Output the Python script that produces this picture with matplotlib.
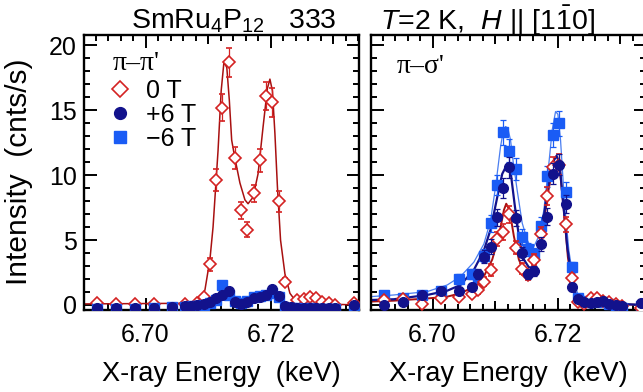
import matplotlib
matplotlib.use('Agg')
import matplotlib.pyplot as plt
from matplotlib.ticker import MultipleLocator, FixedLocator, FormatStrFormatter
from matplotlib.lines import Line2D

plt.rcParams['font.family'] = ['Liberation Sans', 'DejaVu Sans']
plt.rcParams['mathtext.fontset'] = 'custom'
plt.rcParams['mathtext.rm'] = 'Liberation Sans'
plt.rcParams['mathtext.it'] = 'Liberation Sans:italic'
plt.rcParams['mathtext.bf'] = 'Liberation Sans:bold'

# ---------------- data: left panel (pi-pi') ----------------
E0L = [6.6923, 6.6953, 6.6983, 6.7013, 6.7063, 6.7083, 6.7093, 6.7103, 6.7113, 6.7123,
       6.7133, 6.7143, 6.7153, 6.7163, 6.7173, 6.7183, 6.7193, 6.7203, 6.7213, 6.7223,
       6.7243, 6.7253, 6.7263, 6.7273, 6.7283, 6.7293, 6.7303, 6.7333]
I0L = [0.15, 0.1, 0.1, 0.1, 0.1, 0.15, 0.65, 3.15, 9.6, 15.2,
       18.7, 11.3, 7.3, 5.8, 8.6, 11.15, 16.1, 15.6, 8.0, 1.8,
       0.38, 0.44, 0.64, 0.56, 0.26, 0.13, 0.0, 0.13]
err0L = [0.1, 0.1, 0.1, 0.1, 0.1, 0.1, 0.2, 0.5, 0.85, 1.05,
         1.1, 0.85, 0.65, 0.6, 0.65, 0.9, 1.05, 1.1, 0.8, 0.3,
         0.15, 0.15, 0.2, 0.2, 0.15, 0.1, 0.1, 0.1]

EbL = [6.6923, 6.6953, 6.6983, 6.7013, 6.7043, 6.7063, 6.7073, 6.7083, 6.7093, 6.7103,
       6.7113, 6.7123, 6.7133, 6.7143, 6.7153, 6.7163, 6.7173, 6.7183, 6.7193, 6.7203,
       6.7213, 6.7223, 6.7233, 6.7243, 6.7253, 6.7263, 6.7273, 6.7283, 6.7293, 6.7303, 6.7333]
I6pL = [-0.25, -0.25, -0.25, -0.2, -0.12, -0.08, -0.05, 0.0, 0.1, 0.25,
        0.5, 0.8, 1.1, 0.2, 0.1, 0.25, 0.55, 0.65, 0.8, 1.2,
        0.7, -0.1, -0.15, -0.2, -0.2, -0.25, -0.2, -0.25, -0.25, -0.25, 0.0]
I6mL = [-0.3, -0.3, -0.3, -0.25, -0.15, -0.15, -0.1, -0.05, 0.0, 0.15,
        0.4, 1.55, 0.75, 0.3, 0.15, 0.3, 0.65, 0.7, 0.75, 0.9,
        0.65, -0.2, -0.25, -0.25, -0.3, -0.25, -0.3, -0.3, -0.3, -0.3, -0.3]

fitE0L = [6.69014, 6.7071, 6.7087, 6.7095, 6.7103, 6.7108, 6.7116, 6.7121, 6.71254, 6.7130,
          6.7134, 6.71378, 6.7143, 6.7151, 6.7159, 6.7164, 6.7172, 6.7180, 6.7188, 6.7195,
          6.7199, 6.7203, 6.7207, 6.7211, 6.7216, 6.7223, 6.7231, 6.7239, 6.7252, 6.73377]
fitI0L = [0.08, 0.13, 0.5, 1.15, 3.5, 6.0, 11.9, 16.5, 18.7, 18.3,
          15.8, 12.7, 11.3, 9.4, 8.1, 7.8, 8.3, 10.1, 13.7, 16.7,
          17.4, 16.5, 13.2, 9.1, 5.0, 2.4, 0.9, 0.38, 0.13, 0.0]

# ---------------- data: right panel (pi-sigma') ----------------
ER = [6.6923, 6.6953, 6.6983, 6.7013, 6.7043, 6.7063, 6.7073, 6.7083, 6.7093, 6.7103,
      6.7113, 6.7123, 6.7133, 6.7143, 6.7153, 6.7163, 6.7173, 6.7183, 6.7193, 6.7203,
      6.7213, 6.7223, 6.7233, 6.7243, 6.7253, 6.7263, 6.7273, 6.7283, 6.7293, 6.7303, 6.7333]
I0R = [0.4, 0.45, 0.1, 0.5, 0.6, 0.85, 1.15, 1.8, 2.7, 5.1,
       5.6, 7.0, 4.4, 2.8, 2.3, 3.5, 5.45, 8.4, 10.6, 10.8,
       6.2, 2.05, 0.2, 0.05, 0.5, 0.5, 0.3, 0.25, 0.1, -0.1, -0.2]
err0R = [0.15, 0.15, 0.1, 0.2, 0.2, 0.25, 0.3, 0.35, 0.45, 0.55,
         0.6, 0.65, 0.5, 0.4, 0.35, 0.45, 0.55, 0.7, 0.8, 0.8,
         0.6, 0.35, 0.1, 0.1, 0.15, 0.15, 0.15, 0.1, 0.1, 0.1, 0.1]
I6pR = [0.0, 0.2, 0.75, 1.05, 1.1, 1.4, 2.4, 3.7, 4.5, 6.75,
        9.0, 10.6, 6.7, 4.0, 2.4, 2.6, 4.7, 6.8, 10.1, 10.8,
        7.75, 1.4, 0.45, 0.2, 0.15, 0.25, 0.3, 0.1, 0.0, -0.1, 0.15]
err6pR = [0.15, 0.15, 0.2, 0.25, 0.25, 0.3, 0.4, 0.5, 0.55, 0.65,
          0.75, 0.8, 0.65, 0.5, 0.4, 0.4, 0.55, 0.65, 0.8, 0.8,
          0.7, 0.3, 0.15, 0.15, 0.1, 0.15, 0.15, 0.1, 0.1, 0.1, 0.1]
I6mR = [0.8, 0.55, 0.75, 1.1, 2.0, 2.4, 1.8, 3.8, 6.3, 9.25,
        13.3, 11.9, 10.5, 5.25, 4.3, 3.9, 6.1, 9.9, 13.1, 14.0,
        8.7, 2.9, 0.5, 0.3, 0.2, 0.3, 0.2, 0.1, -0.05, -0.25, -0.1]
err6mR = [0.2, 0.2, 0.2, 0.25, 0.35, 0.4, 0.35, 0.5, 0.65, 0.8,
          0.95, 0.9, 0.85, 0.6, 0.5, 0.5, 0.65, 0.8, 0.9, 0.95,
          0.75, 0.4, 0.2, 0.15, 0.15, 0.15, 0.15, 0.1, 0.1, 0.1, 0.1]

fitE6mR = [6.69008, 6.69381, 6.69915, 6.70235, 6.70448, 6.70661, 6.70821, 6.70928, 6.71008, 6.71088,
           6.71131, 6.71168, 6.71205, 6.71248, 6.71291, 6.71355, 6.71435, 6.71515, 6.71568, 6.71621,
           6.71701, 6.71781, 6.71861, 6.71915, 6.71968, 6.72005, 6.72048, 6.72112, 6.72181, 6.72261,
           6.72341, 6.72475, 6.72688, 6.73376]
fitI6mR = [0.64, 0.77, 1.03, 1.54, 2.2, 3.3, 4.7, 6.5, 9.1, 12.2,
           13.4, 13.75, 13.6, 12.7, 11.0, 8.8, 6.3, 5.0, 4.5, 4.5,
           5.3, 7.3, 10.9, 13.5, 14.9, 14.7, 12.7, 7.8, 4.2, 1.7,
           0.64, 0.26, 0.13, 0.0]
fitE6pR = [6.69008, 6.69381, 6.69915, 6.70235, 6.70448, 6.70661, 6.70821, 6.70928, 6.71035, 6.71115,
           6.71168, 6.71195, 6.71248, 6.71312, 6.71381, 6.71461, 6.71541, 6.71595, 6.71675, 6.71755,
           6.71835, 6.71915, 6.71984, 6.72032, 6.72091, 6.72155, 6.72235, 6.72315, 6.72475, 6.73376]
fitI6pR = [0.38, 0.44, 0.77, 1.1, 1.54, 2.7, 4.2, 5.8, 8.3, 10.1,
           10.6, 10.7, 10.3, 7.8, 5.3, 3.5, 2.9, 2.9, 3.7, 5.8,
           8.8, 10.9, 11.5, 10.9, 7.8, 4.5, 1.7, 0.5, 0.18, 0.0]
fitE0R = [6.69008, 6.69381, 6.69915, 6.70235, 6.70448, 6.70661, 6.70821, 6.70955, 6.71061, 6.71141,
          6.71179, 6.71232, 6.71301, 6.71381, 6.71461, 6.71515, 6.71595, 6.71675, 6.71755, 6.71835,
          6.71915, 6.71984, 6.72037, 6.72101, 6.72165, 6.72235, 6.72315, 6.72475, 6.73376]
fitI0R = [0.26, 0.33, 0.5, 0.64, 0.9, 1.4, 2.2, 3.5, 5.3, 7.3,
          7.8, 7.3, 5.3, 3.5, 2.6, 2.3, 2.5, 3.5, 5.3, 8.3,
          10.4, 11.0, 10.4, 7.3, 3.7, 1.4, 0.26, 0.13, 0.0]

labels = ['0 T', '+6 T', '\u22126 T']

RED = '#d42222'
REDLINE = '#a81010'
NAVY = '#12128c'
LIGHT = '#1a5cf5'
LIGHTLINE = '#4a7ef0'

FS = 18
W, H = 643, 392
fig = plt.figure(figsize=(W / 100, H / 100), dpi=100)
axw, axh = 274.6 / W, 274.5 / H
bottom = (H - 309.5) / H
axL = fig.add_axes([84 / W, bottom, axw, axh])
axR = fig.add_axes([371 / W, bottom, axw, axh])


def style(ax, show_ylabels):
    ax.set_xlim(6.69015, 6.73409)
    ax.set_ylim(-0.35, 20.8)
    ax.xaxis.set_major_locator(FixedLocator([6.70, 6.72]))
    ax.xaxis.set_major_formatter(FormatStrFormatter('%.2f'))
    ax.xaxis.set_minor_locator(MultipleLocator(0.002))
    ax.yaxis.set_major_locator(MultipleLocator(5))
    ax.yaxis.set_minor_locator(MultipleLocator(1))
    ax.tick_params(which='both', direction='in', top=True, right=True, width=1.4,
                   labelsize=FS)
    ax.tick_params(axis='x', pad=10)
    ax.tick_params(axis='y', pad=5)
    ax.tick_params(which='major', length=9)
    ax.tick_params(which='minor', length=4.5)
    if not show_ylabels:
        ax.tick_params(labelleft=False)
    for s in ax.spines.values():
        s.set_linewidth(1.7)
    for side in ('bottom', 'top'):
        sec = ax.secondary_xaxis(side)
        sec.xaxis.set_major_locator(FixedLocator([6.71, 6.73]))
        sec.tick_params(direction='in', length=6.5, width=1.4,
                        labelbottom=False, labeltop=False)
        sec.spines[side].set_visible(False)
    ax.set_xlabel('X-ray Energy  (keV)', fontsize=19.5, labelpad=10)


style(axL, True)
style(axR, False)

ekw = dict(elinewidth=0.9, capsize=2, capthick=0.9, ls='none')

# left panel
axL.plot(fitE0L, fitI0L, color=REDLINE, lw=1.1, zorder=2)
axL.errorbar(E0L, I0L, yerr=err0L, fmt='D', mfc='white', mec=RED, ecolor=RED,
             ms=6.5, mew=1.2, zorder=3, **ekw)
axL.plot(EbL, I6mL, 's', color=LIGHT, ms=6.5, zorder=4)
axL.plot(EbL, I6pL, 'o', color=NAVY, ms=7, zorder=5)

# right panel
axR.plot(fitE0R, fitI0R, color=REDLINE, lw=1.4, zorder=2)
axR.plot(fitE6mR, fitI6mR, color=LIGHTLINE, lw=0.9, zorder=2)
axR.plot(fitE6pR, fitI6pR, color=NAVY, lw=1.6, zorder=2)
axR.errorbar(ER, I6mR, yerr=err6mR, fmt='s', color=LIGHT, ecolor=LIGHT, ms=6.5,
             zorder=3, **ekw)
axR.errorbar(ER, I0R, yerr=err0R, fmt='D', mfc='white', mec=RED, ecolor=RED,
             ms=6.5, mew=1.2, zorder=4, **ekw)
axR.errorbar(ER, I6pR, yerr=err6pR, fmt='o', color=NAVY, ecolor=NAVY, ms=7,
             zorder=5, **ekw)

# legend & annotations
handles = [Line2D([], [], marker='D', ls='none', mfc='white', mec=RED, mew=1.2, ms=8),
           Line2D([], [], marker='o', ls='none', color=NAVY, ms=8.5),
           Line2D([], [], marker='s', ls='none', color=LIGHT, ms=8)]
axL.legend(handles, labels, loc='upper left', bbox_to_anchor=(0.085, 0.84),
           frameon=False, fontsize=FS, handletextpad=0.55, labelspacing=0.0,
           handlelength=1.0, borderaxespad=0, borderpad=0)
axL.text(0.105, 0.895, "\u03c0\u2013\u03c0'", transform=axL.transAxes, fontsize=20,
         family='Liberation Serif', ha='left', va='center')
axR.text(0.095, 0.885, "\u03c0\u2013\u03c3'", transform=axR.transAxes, fontsize=20,
         family='Liberation Serif', ha='left', va='center')

fig.text(234 / W, 1 - 21 / H, r'SmRu$_4$P$_{12}$   333', ha='center', va='center',
         fontsize=20.5)
fig.text(488 / W, 1 - 21 / H, r'$T$=2 K,  $H$ || [1$\bar{1}$0]', ha='center',
         va='center', fontsize=20.5)
fig.text(19 / W, 1 - 172 / H, 'Intensity  (cnts/s)', rotation=90, ha='center',
         va='center', fontsize=21.5)

fig.savefig('out.png', dpi=100)
